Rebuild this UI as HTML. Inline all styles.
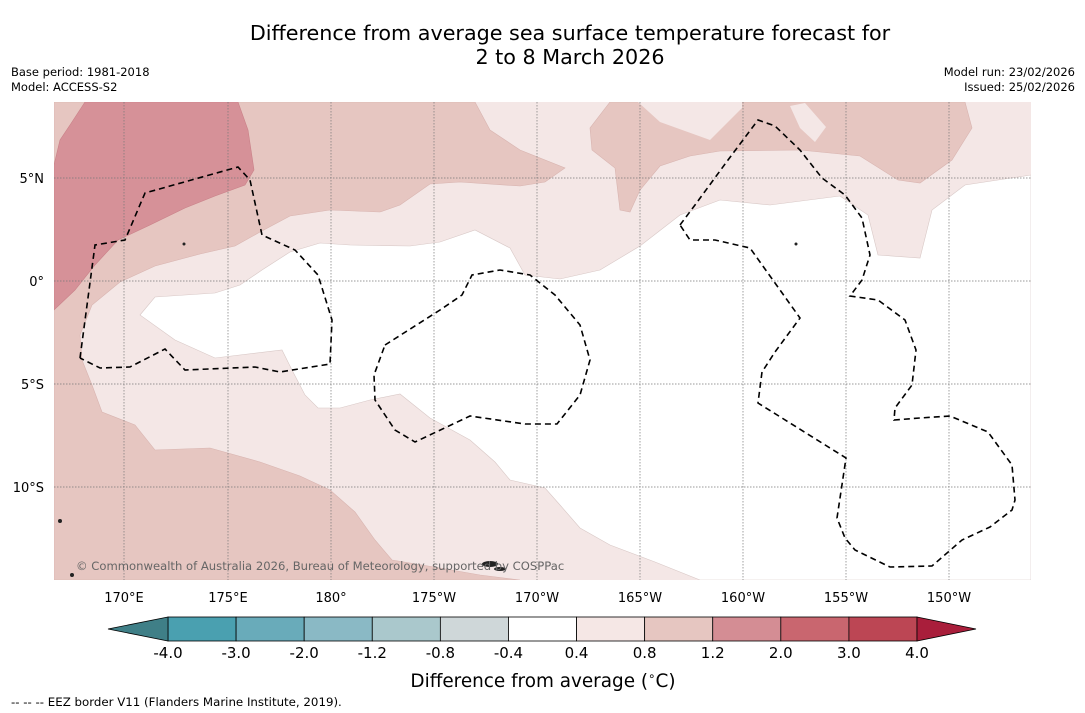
<!DOCTYPE html>
<html><head><meta charset="utf-8"><style>
body{margin:0;background:#fff;font-family:"DejaVu Sans",sans-serif}
#root{position:relative;width:1085px;height:713px;overflow:hidden;background:#fff}
.t{position:absolute;font-size:11.5px;color:#000;white-space:nowrap}
</style></head><body>
<div id="root">
<div class="t" style="left:0;width:1140px;top:21px;text-align:center;font-size:20.7px;line-height:24px">Difference from average sea surface temperature forecast for<br>2 to 8 March 2026</div>
<div class="t" style="left:11px;top:65px;line-height:15px">Base period: 1981-2018<br>Model: ACCESS-S2</div>
<div class="t" style="right:10px;top:65px;line-height:15px;text-align:right">Model run: 23/02/2026<br>Issued: 25/02/2026</div>
<svg id="svg" width="1085" height="713" style="position:absolute;left:0;top:0" font-family="DejaVu Sans">
<defs><clipPath id="mc"><rect x="54" y="102" width="977" height="478"/></clipPath></defs>
<g clip-path="url(#mc)">
<rect x="54" y="102" width="977" height="478" fill="#f4e7e6"/>
<path fill="#e6c6c1" stroke="#d8b4b0" stroke-width="0.6" d="M54,102 L475,102 L490,130 L520,150 L565,168 L545,182 L520,186 L460,182 L430,184 L400,205 L380,212 L330,210 L290,216 L260,232 L235,246 L200,254 L155,266 L120,282 L92,305 L80,335 L82,360 L92,385 L102,412 L135,425 L155,450 L210,448 L260,462 L300,476 L330,490 L355,512 L375,540 L392,560 L440,568 L480,575 L520,580 L54,580Z"/>
<path fill="#e6c6c1" stroke="#d8b4b0" stroke-width="0.6" d="M610,102 L590,128 L592,150 L615,168 L620,210 L630,212 L640,190 L660,166 L690,156 L720,151 L800,150 L860,156 L898,180 L920,183 L952,160 L972,128 L965,102Z"/>
<path fill="#f4e7e6" d="M638,102 L660,122 L710,140 L742,108 L742,102Z M790,106 L805,103 L826,127 L815,142 L800,128Z"/>
<path fill="#d69198" stroke="#c98088" stroke-width="0.6" d="M54,165 L60,140 L70,125 L85,102 L238,102 L248,130 L254,170 L245,185 L215,196 L185,208 L150,225 L118,240 L95,265 L75,290 L54,310Z"/>
<path fill="#ffffff" stroke="#d8c8c6" stroke-width="0.6" d="M140,315 L155,297 L215,293 L240,285 L262,270 L290,252 L320,243 L350,245 L410,246 L440,242 L475,230 L510,248 L525,275 L560,279 L600,270 L640,246 L680,215 L720,200 L770,205 L840,196 L868,215 L878,255 L920,258 L932,210 L965,185 L1031,175 L1031,580 L700,580 L655,562 L610,545 L580,528 L560,505 L545,488 L510,480 L495,462 L470,440 L430,418 L400,394 L370,400 L340,408 L318,408 L305,395 L292,370 L282,350 L215,358 L175,340Z"/>
<g stroke="#777" stroke-width="0.7" stroke-dasharray="1.5,1.5">
<line x1="124" y1="102" x2="124" y2="580"/><line x1="228" y1="102" x2="228" y2="580"/><line x1="331" y1="102" x2="331" y2="580"/><line x1="434" y1="102" x2="434" y2="580"/><line x1="537" y1="102" x2="537" y2="580"/><line x1="640" y1="102" x2="640" y2="580"/><line x1="743" y1="102" x2="743" y2="580"/><line x1="846" y1="102" x2="846" y2="580"/><line x1="949" y1="102" x2="949" y2="580"/>
<line x1="54" y1="178" x2="1031" y2="178"/><line x1="54" y1="281" x2="1031" y2="281"/><line x1="54" y1="384" x2="1031" y2="384"/><line x1="54" y1="487" x2="1031" y2="487"/>
</g>
<g fill="none" stroke="#000" stroke-width="1.6" stroke-dasharray="6,4">
<path d="M80,358 L95,245 L125,240 L145,193 L238,167 L250,180 L262,235 L295,250 L318,275 L332,320 L330,364 L280,372 L255,367 L185,370 L165,349 L130,367 L100,368 L80,358"/>
<path d="M385,345 L440,310 L462,295 L472,275 L500,270 L530,275 L555,295 L580,325 L590,360 L580,395 L557,424 L525,424 L470,416 L415,442 L395,430 L375,400 L374,375 Z"/>
<path d="M680,225 L695,205 L728,160 L758,120 L775,126 L800,150 L822,178 L845,195 L862,218 L870,255 L862,280 L850,296 L878,300 L905,320 L916,350 L912,385 L895,408 L894,420 L920,418 L950,416 L988,432 L1012,465 L1015,500 L1012,510 L990,527 L962,540 L932,566 L890,567 L855,550 L845,538 L837,518 L846,458 L758,403 L762,372 L775,352 L800,318 L780,290 L750,248 L715,240 L690,240 Z"/>
</g>
<g fill="#222">
<ellipse cx="490" cy="564" rx="8" ry="3"/><ellipse cx="500" cy="569" rx="6" ry="2"/><circle cx="60" cy="521" r="2"/><circle cx="72" cy="575" r="2"/><circle cx="796" cy="244" r="1.5"/><circle cx="184" cy="244" r="1.5"/>
</g>
</g>
<text x="76" y="570" font-size="11.6" fill="#666">© Commonwealth of Australia 2026, Bureau of Meteorology, supported by COSPPac</text>
<g font-size="13" text-anchor="end">
<text x="44" y="183">5°N</text><text x="44" y="286">0°</text><text x="44" y="389">5°S</text><text x="44" y="492">10°S</text>
</g>
<g font-size="13" text-anchor="middle">
<text x="124" y="602">170°E</text><text x="228" y="602">175°E</text><text x="331" y="602">180°</text><text x="434" y="602">175°W</text><text x="537" y="602">170°W</text><text x="640" y="602">165°W</text><text x="743" y="602">160°W</text><text x="846" y="602">155°W</text><text x="949" y="602">150°W</text>
</g>
<g id="cbar"></g>
<text x="543" y="687" font-size="18.4" text-anchor="middle">Difference from average (<tspan font-size="12" dy="-7">∘</tspan><tspan dy="7">C)</tspan></text>
<text x="11" y="706" font-size="11.8">--  --  -- EEZ border V11 (Flanders Marine Institute, 2019).</text>
</svg>
</div>
<script>
const cbTicks=["-4.0","-3.0","-2.0","-1.2","-0.8","-0.4","0.4","0.8","1.2","2.0","3.0","4.0"];
const cbColors=["#4aa0b0","#69abba","#8ab9c5","#aac8cc","#cfd7d9","#ffffff","#f5e7e5","#e6c6c1","#d48d94","#c9666f","#bc4654"];
const cbLow="#3f7f87", cbHigh="#a91e3b";
const g=document.getElementById('cbar');const ns="http://www.w3.org/2000/svg";
const x0=168,x1=917,y=617,h=24,step=(x1-x0)/cbColors.length;
function mk(t,a){const e=document.createElementNS(ns,t);for(const k in a)e.setAttribute(k,a[k]);g.appendChild(e);return e;}
cbColors.forEach((c,i)=>{const r=mk('rect',{x:x0+i*step,y:y,width:step,height:h,fill:c,stroke:'#000','stroke-width':0.8});

});
const tl=mk('polygon',{points:`${x0},${y} 108,${y+h/2} ${x0},${y+h}`,fill:cbLow,stroke:'#000','stroke-width':0.8});


const th=mk('polygon',{points:`${x1},${y} 976,${y+h/2} ${x1},${y+h}`,fill:cbHigh,stroke:'#000','stroke-width':0.8});


cbTicks.forEach((t,i)=>{const e=mk('text',{x:x0+i*step,y:658,'font-size':15,'text-anchor':'middle'});e.textContent=t;

});
</script>
</body></html>
